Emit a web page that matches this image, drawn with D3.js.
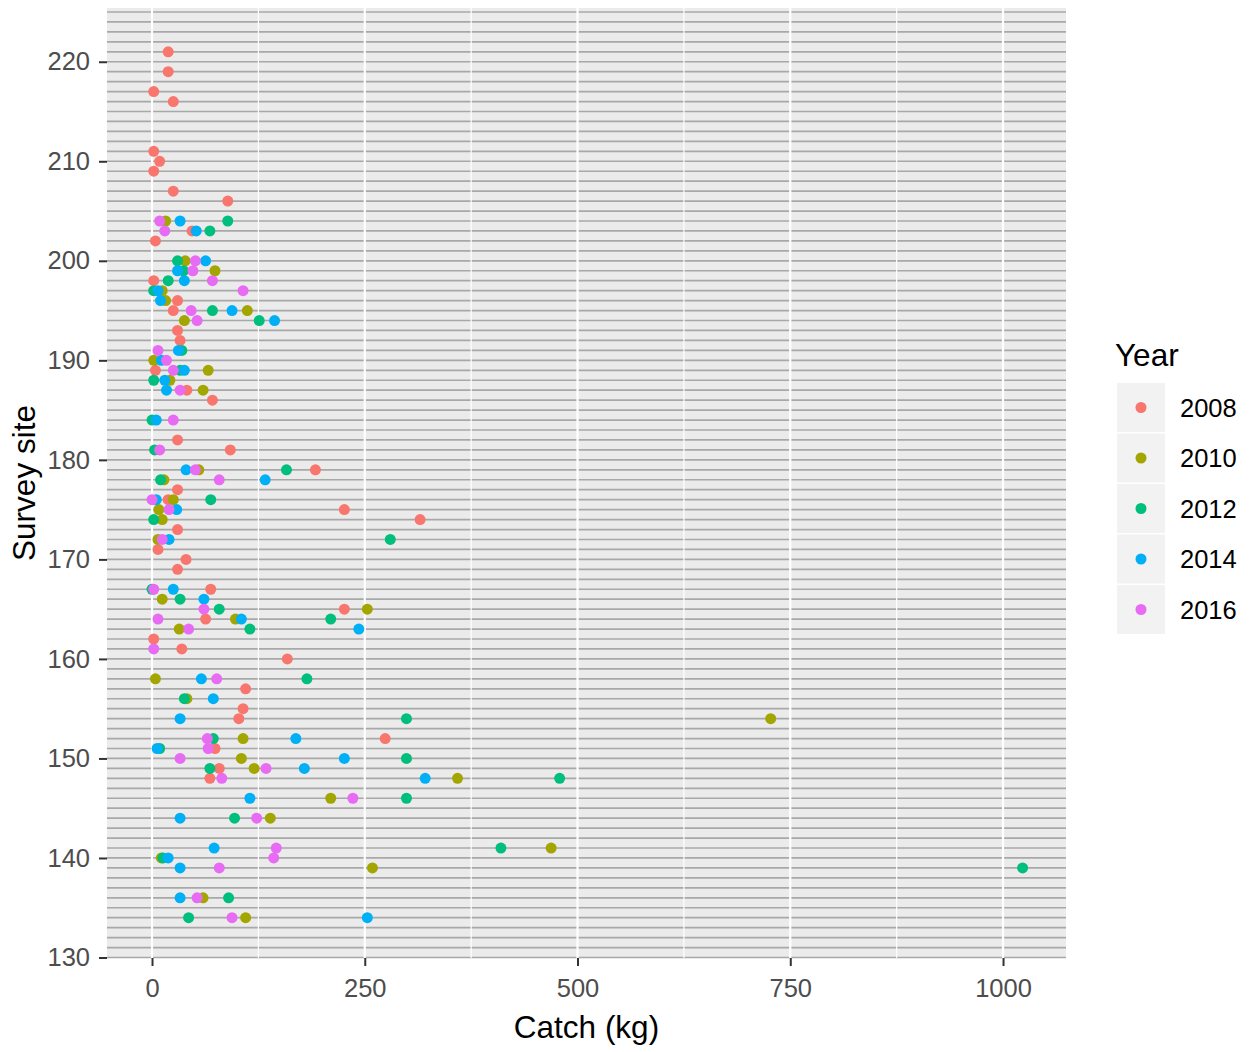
<!DOCTYPE html>
<html>
<head>
<meta charset="utf-8">
<script src="https://cdn.jsdelivr.net/npm/d3@7"></script>
<style>
  body { margin: 0; background: white; }
  text { font-family: "Liberation Sans", Arial, sans-serif; }
</style>
</head>
<body>
<div id="chart"></div>
<script>
// catch per survey site, one pair of arrays per year
var years = ['2008', '2010', '2012', '2014', '2016'];
var year_colors = ['#F8766D', '#A3A500', '#00BF7D', '#00B0F6', '#E76BF3'];

var sites_2008 = [221, 219, 217, 216, 211, 210, 209, 207, 206, 203, 202, 198, 196, 195, 193, 192, 189, 187, 186, 182, 181, 179, 177, 176, 175, 174, 173, 171, 170, 169, 167, 165, 164, 162, 161, 160, 157, 155, 154, 152, 151, 149, 148];
var catch_2008 = [19, 19, 2, 25, 2, 9, 2, 25, 89, 47, 4, 2, 30, 25, 30, 33, 4, 41, 71, 30, 92, 192, 30, 19, 226, 315, 30, 7, 40, 30, 69, 226, 63, 2, 35, 159, 110, 107, 102, 274, 74, 79, 68];

var sites_2010 = [204, 200, 199, 197, 196, 195, 194, 190, 189, 188, 187, 179, 178, 176, 175, 174, 172, 166, 165, 164, 163, 158, 156, 154, 152, 150, 149, 148, 146, 144, 141, 140, 139, 136, 134];
var catch_2010 = [16, 39, 74, 12, 16, 112, 38, 2, 66, 21, 60, 55, 14, 25, 8, 12, 7, 12, 253, 98, 32, 4, 41, 727, 107, 105, 120, 359, 210, 139, 469, 11, 259, 60, 110];

var sites_2012 = [204, 203, 200, 199, 198, 197, 195, 194, 191, 189, 188, 184, 181, 179, 178, 176, 174, 172, 167, 166, 165, 164, 163, 158, 156, 154, 152, 151, 150, 149, 148, 146, 144, 141, 140, 139, 136, 134];
var catch_2012 = [89, 68, 30, 37, 19, 2, 71, 126, 35, 33, 2, 0, 3, 158, 10, 69, 2, 280, 0, 33, 79, 210, 115, 182, 38, 299, 72, 9, 299, 68, 479, 299, 97, 410, 13, 1023, 90, 43];

var sites_2014 = [204, 203, 200, 199, 198, 197, 196, 195, 194, 191, 190, 189, 188, 187, 184, 179, 178, 176, 175, 172, 167, 166, 164, 163, 158, 156, 154, 152, 151, 150, 149, 148, 146, 144, 141, 140, 139, 136, 134];
var catch_2014 = [33, 52, 63, 30, 38, 7, 10, 94, 144, 31, 11, 38, 15, 17, 5, 40, 133, 5, 29, 20, 25, 61, 105, 243, 58, 72, 33, 169, 6, 226, 179, 321, 115, 33, 73, 19, 33, 33, 253];

var sites_2016 = [204, 203, 200, 199, 198, 197, 195, 194, 191, 190, 189, 187, 184, 181, 179, 178, 176, 175, 172, 167, 165, 164, 163, 161, 158, 152, 151, 150, 149, 148, 146, 144, 141, 140, 139, 136, 134];
var catch_2016 = [9, 15, 51, 48, 71, 107, 46, 53, 7, 17, 25, 33, 25, 9, 51, 79, 0, 20, 12, 2, 61, 7, 43, 2, 76, 65, 66, 33, 134, 82, 236, 123, 146, 143, 79, 53, 94];

var x_ticks = [0, 250, 500, 750, 1000];
var x_minor = [125, 375, 625, 875];
var y_ticks = [130, 140, 150, 160, 170, 180, 190, 200, 210, 220];

var all_sites = [sites_2008, sites_2010, sites_2012, sites_2014, sites_2016];
var all_catch = [catch_2008, catch_2010, catch_2012, catch_2014, catch_2016];

var data = [];
years.forEach(function(yr, i) {
    all_sites[i].forEach(function(s, j) {
        data.push({year: yr, site: s, catch_kg: all_catch[i][j]});
    });
});

var width = 1255, height = 1052;
var panel = {left: 107, right: 1066, top: 8, bottom: 958};

var svg = d3.select('#chart').append('svg')
    .attr('width', width)
    .attr('height', height);

var x = d3.scaleLinear().domain([-52.9, 1074]).range([panel.left, panel.right]);
var y = d3.scaleLinear().domain([129.95, 225.4]).range([panel.bottom, panel.top]);
var color = d3.scaleOrdinal().domain(years).range(year_colors);

svg.append('rect')
    .attr('x', panel.left)
    .attr('y', panel.top)
    .attr('width', panel.right - panel.left)
    .attr('height', panel.bottom - panel.top)
    .attr('fill', '#EBEBEB');

// grey line for every site number
var site_lines = d3.range(130, 226);
svg.append('g').selectAll('line')
    .data(site_lines)
    .enter().append('line')
    .attr('x1', panel.left)
    .attr('x2', panel.right)
    .attr('y1', function(d) { return y(d); })
    .attr('y2', function(d) { return y(d); })
    .attr('stroke', '#A8A8A8')
    .attr('stroke-width', 1.7);

// white vertical grid on top
svg.append('g').selectAll('line')
    .data(x_minor)
    .enter().append('line')
    .attr('x1', function(d) { return x(d); })
    .attr('x2', function(d) { return x(d); })
    .attr('y1', panel.top)
    .attr('y2', panel.bottom)
    .attr('stroke', 'white')
    .attr('stroke-width', 1.2);
svg.append('g').selectAll('line')
    .data(x_ticks)
    .enter().append('line')
    .attr('x1', function(d) { return x(d); })
    .attr('x2', function(d) { return x(d); })
    .attr('y1', panel.top)
    .attr('y2', panel.bottom)
    .attr('stroke', 'white')
    .attr('stroke-width', 2.2);

svg.append('g').selectAll('circle')
    .data(data)
    .enter().append('circle')
    .attr('cx', function(d) { return x(d.catch_kg); })
    .attr('cy', function(d) { return y(d.site); })
    .attr('r', 5.5)
    .attr('fill', function(d) { return color(d.year); });

// axes
var bottom_axis = svg.append('g')
    .attr('transform', 'translate(0,' + panel.bottom + ')')
    .call(d3.axisBottom(x).tickValues(x_ticks).tickFormat(d3.format('d')).tickSize(8).tickPadding(13));
var left_axis = svg.append('g')
    .attr('transform', 'translate(' + panel.left + ',0)')
    .call(d3.axisLeft(y).tickValues(y_ticks).tickSize(8).tickPadding(9));
[bottom_axis, left_axis].forEach(function(ax) {
    ax.select('.domain').remove();
    ax.selectAll('.tick line').attr('stroke', '#333333').attr('stroke-width', 2);
    ax.selectAll('.tick text')
        .attr('fill', '#4D4D4D')
        .style('font-size', '25.5px')
        .style('font-family', '"Liberation Sans", Arial, sans-serif');
});

svg.append('text')
    .attr('x', (panel.left + panel.right) / 2)
    .attr('y', 1038)
    .attr('text-anchor', 'middle')
    .style('font-size', '31.5px')
    .attr('fill', 'black')
    .text('Catch (kg)');

svg.append('text')
    .attr('transform', 'translate(35,' + ((panel.top + panel.bottom) / 2) + ') rotate(-90)')
    .attr('text-anchor', 'middle')
    .style('font-size', '31.5px')
    .attr('fill', 'black')
    .text('Survey site');

// legend
var legend = svg.append('g').attr('transform', 'translate(1115,0)');
legend.append('text')
    .attr('x', 0)
    .attr('y', 366)
    .style('font-size', '31.5px')
    .attr('fill', 'black')
    .text('Year');
for (var i = 0; i < years.length; i++) {
    legend.append('rect')
        .attr('x', 2)
        .attr('y', 383 + 50.5 * i)
        .attr('width', 48)
        .attr('height', 49)
        .attr('fill', '#F2F2F2');
    legend.append('circle')
        .attr('cx', 26)
        .attr('cy', 407.5 + 50.5 * i)
        .attr('r', 5.5)
        .attr('fill', year_colors[i]);
    legend.append('text')
        .attr('x', 65)
        .attr('y', 407.5 + 50.5 * i)
        .attr('dy', '0.36em')
        .style('font-size', '25.5px')
        .attr('fill', 'black')
        .text(years[i]);
}
</script>
</body>
</html>
